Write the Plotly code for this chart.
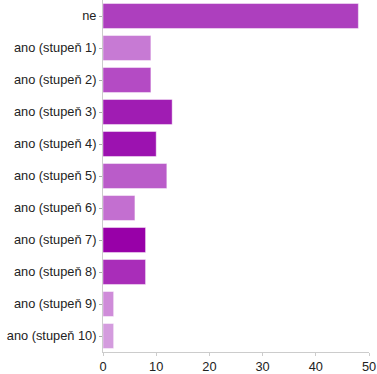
import plotly.graph_objects as go

categories = ["ne", "ano (stupeň 1)", "ano (stupeň 2)", "ano (stupeň 3)", "ano (stupeň 4)",
              "ano (stupeň 5)", "ano (stupeň 6)", "ano (stupeň 7)", "ano (stupeň 8)",
              "ano (stupeň 9)", "ano (stupeň 10)"]
values = [48, 9, 9, 13, 10, 12, 6, 8, 8, 2, 2]
colors = ["#ad3fbe", "#c77ad4", "#b44bc4", "#a01cb3", "#9c12b0", "#ba5cc9",
          "#c36fd0", "#9800a8", "#a92db9", "#cf8cd9", "#d49cde"]
x_ticks = [0, 10, 20, 30, 40, 50]

fig = go.Figure(go.Bar(
    x=values, y=categories, orientation="h",
    marker=dict(color=colors, line=dict(color="rgba(255,255,255,0.45)", width=1)),
))

fig.update_layout(
    width=377, height=374,
    margin=dict(l=103, r=8, t=0, b=19),
    paper_bgcolor="white", plot_bgcolor="white",
    bargap=0.22,
    showlegend=False,
    font=dict(family="Liberation Sans, Arial, sans-serif", size=12.8, color="#222222"),
)
fig.update_xaxes(
    range=[0, 50], tickvals=x_ticks, showgrid=False, zeroline=False,
    showline=True, linecolor="#cccccc", linewidth=1,
    ticks="outside", ticklen=3, tickcolor="#cccccc",
)
fig.update_yaxes(
    autorange="reversed", showgrid=False, zeroline=False,
    showline=True, linecolor="#cccccc", linewidth=1,
    ticks="outside", ticklen=3, tickcolor="#aaaaaa",
)

fig.write_html("out.html")
